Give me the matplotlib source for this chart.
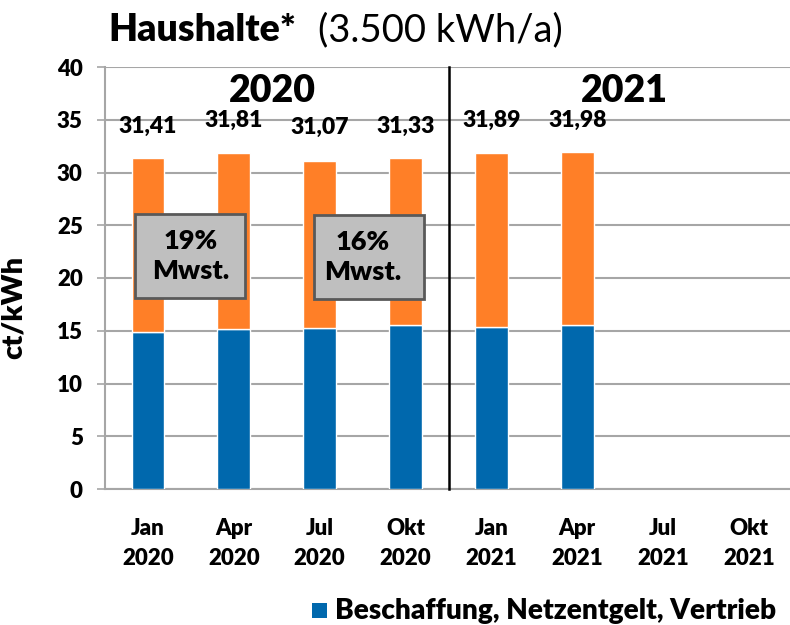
import matplotlib
matplotlib.use("Agg")
import matplotlib.pyplot as plt
import numpy as np
from matplotlib.patches import Rectangle

plt.rcParams['font.family'] = ['Lato', 'DejaVu Sans']
BW = "heavy"

months = ["Jan", "Apr", "Jul", "Okt", "Jan", "Apr", "Jul", "Okt"]
years = ["2020", "2020", "2020", "2020", "2021", "2021", "2021", "2021"]
blue_vals = [14.85, 15.15, 15.25, 15.5, 15.4, 15.55]
totals = [31.41, 31.81, 31.07, 31.33, 31.89, 31.98]
total_labels = ["31,41", "31,81", "31,07", "31,33", "31,89", "31,98"]
label_y = [34.4, 34.9, 34.3, 34.4, 34.9, 34.9]
orange_vals = [t - b for t, b in zip(totals, blue_vals)]

BLUE = "#0068AD"
ORANGE = "#FF7F27"

fig = plt.figure(figsize=(7.9, 6.25), dpi=100)
ax = fig.add_axes([105/790, 1-489/625, (792-105)/790, (489-67)/625])

x = np.arange(len(blue_vals))
w = 0.38
ax.bar(x, blue_vals, width=w, color=BLUE, edgecolor="white", linewidth=1, zorder=3)
ax.bar(x, orange_vals, width=w, bottom=blue_vals, color=ORANGE, edgecolor="white", linewidth=1, zorder=3)

for xi, lab, ly in zip(x, total_labels, label_y):
    ax.text(xi, ly, lab, ha="center", va="center", fontsize=16.5, fontweight=BW, zorder=5)

ax.set_xlim(-0.5, 7.5)
ax.set_ylim(0, 40)
ax.set_yticks(range(0, 41, 5))
ax.set_xticks(range(8))
ax.set_xticklabels([f"{m}\n{y}" for m, y in zip(months, years)], fontsize=16,
                   fontweight=BW, linespacing=1.5)
ax.tick_params(axis="x", length=0, pad=21)
ax.tick_params(axis="y", length=6, color="#A6A6A6", width=1.2, labelsize=16, pad=10)
for t in ax.get_yticklabels():
    t.set_fontweight(BW)

ax.yaxis.grid(True, color="#A6A6A6", linewidth=1.5, zorder=0)
ax.set_axisbelow(True)
for s in ["top", "right"]:
    ax.spines[s].set_visible(False)
ax.spines["left"].set_color("#A6A6A6")
ax.spines["left"].set_linewidth(1.5)
ax.spines["bottom"].set_color("#A6A6A6")
ax.spines["bottom"].set_linewidth(1.5)

ax.axvline(3.5, color="black", linewidth=1.8, zorder=4, clip_on=False)

ax.set_ylabel("ct/kWh", fontsize=21, fontweight=BW)
ax.yaxis.set_label_coords((27-105)/687, (489-307)/422)

ax.text(1.45, 37.7, "2020", ha="center", va="center", fontsize=27, fontweight=BW)
ax.text(5.55, 37.7, "2021", ha="center", va="center", fontsize=27, fontweight=BW)

ax.add_patch(Rectangle((135, 625-298), 110, 84, transform=None, facecolor="#BFBFBF",
                       edgecolor="#595959", linewidth=2, zorder=5))
ax.add_patch(Rectangle((314, 625-299), 110, 84, transform=None, facecolor="#BFBFBF",
                       edgecolor="#595959", linewidth=2, zorder=5))
ax.text(0.5, 22.1, "19%\nMwst.", ha="center", va="center", fontsize=19.5, fontweight=BW,
        zorder=6, linespacing=1.3)
ax.text(2.5, 22.0, "16%\nMwst.", ha="center", va="center", fontsize=19.5, fontweight=BW,
        zorder=6, linespacing=1.3)

t1 = fig.text(108/790, 1-30/625, "Haushalte*", fontsize=27, fontweight=BW, va="center", ha="left")
fig.canvas.draw()
bb = t1.get_window_extent(renderer=fig.canvas.get_renderer())
fig.text((bb.x1 + 22)/790, 1-30/625, "(3.500 kWh/a)", fontsize=27.5, va="center", ha="left")

fig.patches.append(Rectangle((312/790, 1-618/625), 15/790, 15/625, transform=fig.transFigure,
                             facecolor=BLUE, edgecolor="none"))
fig.text(335/790, 1-619/625, "Beschaffung, Netzentgelt, Vertrieb", fontsize=20.2,
         fontweight=BW, va="baseline", ha="left")

fig.savefig("out.png", dpi=100)
